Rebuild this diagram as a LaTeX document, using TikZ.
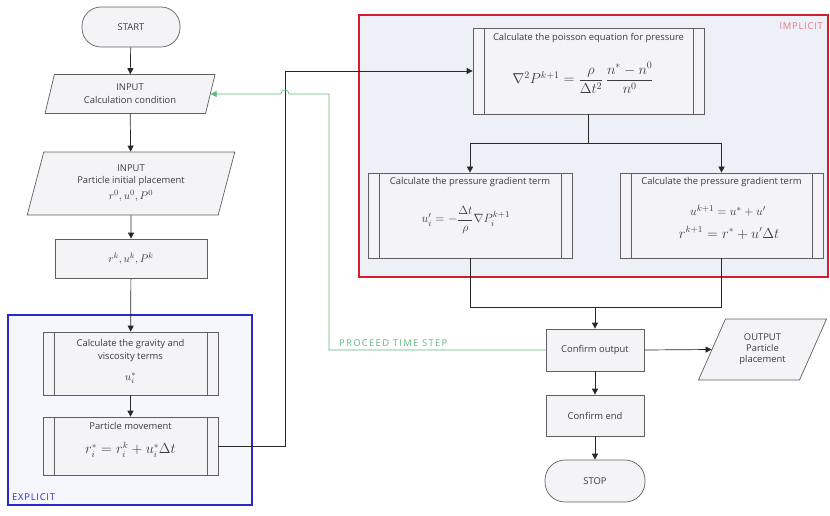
\documentclass[tikz,border=0pt]{standalone}
\usepackage{amsmath}
\usepackage{fontspec}
\setmainfont{Open Sans}
\usetikzlibrary{shapes.geometric,arrows.meta,calc}
\pgfdeclarelayer{back}
\pgfsetlayers{back,main}
\definecolor{boxline}{RGB}{95,95,95}
\definecolor{boxfill}{RGB}{244,244,246}
\definecolor{implfill}{RGB}{237,240,247}
\definecolor{explfill}{RGB}{246,247,252}
\definecolor{implred}{RGB}{210,30,45}
\definecolor{explblue}{RGB}{40,40,205}
\definecolor{stepgreen}{RGB}{95,185,125}
\definecolor{txt}{RGB}{60,60,60}
\definecolor{conn}{RGB}{40,40,40}
\begin{document}
\begin{tikzpicture}[x=1pt,y=-1pt,
  font=\fontsize{9.4}{13}\selectfont, text=txt,
  box/.style={draw=boxline, fill=boxfill, line width=0.7pt, inner sep=1pt, align=center},
  term/.style={box, rounded corners=19pt},
  io/.style={box, trapezium, trapezium left angle=#1, trapezium right angle=180-#1, trapezium stretches=true},
  proc/.style={box, path picture={\draw[boxline,line width=0.7pt]
      ([xshift=11pt]path picture bounding box.north west) -- ([xshift=11pt]path picture bounding box.south west)
      ([xshift=-11pt]path picture bounding box.north east) -- ([xshift=-11pt]path picture bounding box.south east);}},
  lbl/.style={inner sep=0pt, align=center},
  arr/.style={draw=conn, line width=0.7pt, -{Triangle[length=6pt,width=6pt]}},
  ln/.style={draw=conn, line width=0.7pt},
  greenarr/.style={draw=stepgreen, line width=0.7pt, -{Triangle[length=6pt,width=6pt]}},
  region/.style={line width=2pt, inner sep=0pt}
]
\useasboundingbox (0,0) rectangle (830,516);

% regions
\begin{pgfonlayer}{back}
\node[region, draw=implred, fill=implfill, minimum width=469pt, minimum height=262pt] (impl) at (593.5,146) {};
\node[region, draw=explblue, fill=explfill, minimum width=244pt, minimum height=190pt] (expl) at (130,410) {};
\end{pgfonlayer}
\node[lbl, anchor=north east, text=implred!60!white] (impllbl) at (823,22) {\addfontfeatures{LetterSpace=8}IMPLICIT};
\node[lbl, anchor=south west, text=explblue] (expllbl) at (12,501) {\addfontfeatures{LetterSpace=8}EXPLICIT};

% left column
\node[term, minimum width=98pt, minimum height=40pt] (start) at (131,27) {START};
\node[io=75, minimum width=170pt, minimum height=39pt] (in1) at (130,94) {INPUT\\Calculation condition};
\node[io=75, minimum width=208pt, minimum height=63pt] (in2) at (131,183.5) {INPUT\\[-1pt]Particle initial placement\\[3pt]{\fontsize{11}{13}\selectfont$r^0, u^0, P^0$}};
\node[box, minimum width=152pt, minimum height=39pt] (init) at (131,258.5) {\fontsize{11}{13}\selectfont$r^k, u^k, P^k$};
\node[proc, minimum width=175pt, minimum height=63pt] (grav) at (130.5,363.5) {};
\node[lbl] (gravT) at (130.5,350.5) {Calculate the gravity and\\viscosity terms};
\node[lbl] (gravF) at (130.5,378) {\fontsize{11}{13}\selectfont$u_i^*$};
\node[proc, minimum width=175pt, minimum height=58pt] (move) at (130.5,446) {};
\node[lbl] (moveT) at (130.5,426) {Particle movement};
\node[lbl] (moveF) at (130.5,450) {\fontsize{13.5}{15}\selectfont$r_i^* = r_i^k + u_i^*\Delta t$};

% implicit part
\node[proc, minimum width=231pt, minimum height=86pt] (pois) at (588.5,71) {};
\node[lbl] (poisT) at (588.5,38) {Calculate the poisson equation for pressure};
\node[lbl] (poisF) at (583,78) {\fontsize{14.5}{17}\selectfont$\nabla^2 P^{k+1} = \dfrac{\rho}{\Delta t^2}\,\dfrac{n^* - n^0}{n^0}$};
\node[proc, minimum width=204pt, minimum height=85pt] (pg1) at (470,215.5) {};
\node[lbl] (pg1T) at (470,182) {Calculate the pressure gradient term};
\node[lbl] (pg1F) at (466,220) {\fontsize{13}{15}\selectfont$u_i' = -\dfrac{\Delta t}{\rho}\nabla P_i^{k+1}$};
\node[proc, minimum width=203pt, minimum height=85pt] (pg2) at (721.5,215.5) {};
\node[lbl] (pg2T) at (721.5,182) {Calculate the pressure gradient term};
\node[lbl] (pg2F1) at (728,211) {\fontsize{12.5}{14}\selectfont$u^{k+1} = u^* + u'$};
\node[lbl] (pg2F2) at (729,233) {\fontsize{13.5}{15}\selectfont$r^{k+1} = r^* + u'\Delta t$};

% bottom right
\node[box, minimum width=98pt, minimum height=42pt] (conf) at (595,350) {Confirm output};
\node[box, minimum width=98pt, minimum height=41pt] (cend) at (595,415.5) {Confirm end};
\node[term, minimum width=100pt, minimum height=42pt, rounded corners=20pt] (stop) at (595,481) {STOP};
\node[io=62, minimum width=129pt, minimum height=61pt] (out) at (762.5,349.5) {OUTPUT\\[-2pt]Particle\\[-2pt]placement};

% connectors
\draw[arr] (start) -- (in1);
\draw[arr] (in1) -- (in2);
\draw[arr] (in2) -- (init);
\draw[arr] (init) -- (grav);
\draw[arr] (grav) -- (move);
\coordinate (j1) at (285,71);
\draw[arr] (move.east) -| (j1) -- (pois.west);
\coordinate (sp) at (588.5,143);
\draw[ln] (pois.south) -- (sp);
\draw[arr] (sp) -| (pg1.north);
\draw[arr] (sp) -| (pg2.north);
\coordinate (jn) at (595,307);
\draw[ln] (pg1.south) |- (jn);
\draw[ln] (pg2.south) |- (jn);
\draw[arr] (jn) -- (conf.north);
\draw[arr] (conf) -- (cend);
\draw[arr] (cend) -- (stop);
\draw[arr] (conf.east) -- (out.west);
\coordinate (g1) at (329,350);
\coordinate (g2) at (329,94);
\coordinate (hopR) at (289,94);
\coordinate (hopL) at (281,94);
\draw[greenarr] (conf.west) -- (g1) -- (g2) -- (hopR) .. controls (289,88.5) and (281,88.5) .. (hopL) -- (in1.east);
\node[lbl, anchor=south west, text=stepgreen] (steplbl) at (339,346.5) {\addfontfeatures{LetterSpace=14}PROCEED TIME STEP};
\end{tikzpicture}
\end{document}
